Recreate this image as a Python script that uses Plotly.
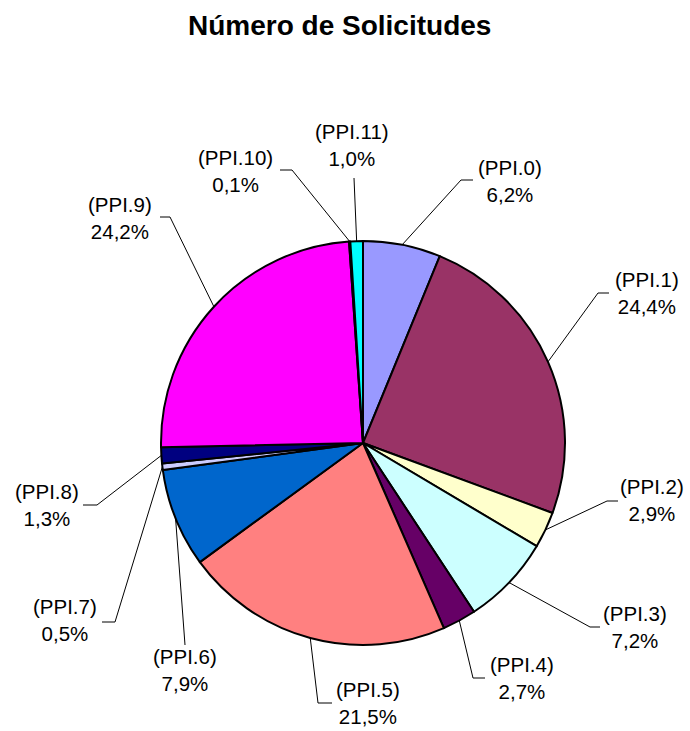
import numpy as np
import plotly.graph_objects as go

# data
labels = ["PPI.0", "PPI.1", "PPI.2", "PPI.3", "PPI.4", "PPI.5",
          "PPI.6", "PPI.7", "PPI.8", "PPI.9", "PPI.10", "PPI.11"]
shares = [6.2, 24.4, 2.9, 7.2, 2.7, 21.5, 7.9, 0.5, 1.3, 24.2, 0.1, 1.0]
colors = ["#9999FF", "#993366", "#FFFFCC", "#CCFFFF", "#660066", "#FF8080",
          "#0066CC", "#CCCCFF", "#000080", "#FF00FF", "#FFFF00", "#00FFFF"]

W, H = 690, 731
cx, cy, R = 363, 443, 202

# label layout (pixels): text centre, elbow, end of leader
label_text = [(510, 181), (647, 293), (652, 500), (635, 627), (522, 678), (368, 703),
              (185, 670), (65, 620), (47, 505), (120, 218), (235, 171), (352, 145)]
label_elbow = [(461, 180), (598, 293), (607, 501), (590, 627), (473, 678), (318, 703),
               (185, 645), (115, 622), (97, 505), (170, 217), (292, 170), (354, 178)]
label_end = [(473, 180), (609, 293), (618, 501), (600, 627), (485, 678), (332, 703),
             (185, 645), (102, 622), (83, 505), (160, 217), (280, 170), (354, 178)]


def px(x, y):
    return x / W, 1 - y / H


fig = go.Figure()
fig.add_trace(go.Pie(
    labels=labels, values=shares, sort=False, direction="clockwise", rotation=0,
    marker=dict(colors=colors, line=dict(color="black", width=2)),
    textinfo="none", hoverinfo="label+percent", showlegend=False,
    domain=dict(x=[px(cx - R, 0)[0], px(cx + R, 0)[0]],
                y=[px(0, cy + R)[1], px(0, cy - R)[1]]),
))

total = sum(shares)
cum = np.cumsum([0] + shares)
for i, lab in enumerate(labels):
    mid = (cum[i] + shares[i] / 2) / total * 2 * np.pi
    sx, sy = cx + R * np.sin(mid), cy - R * np.cos(mid)
    x0, y0 = px(sx, sy)
    x1, y1 = px(*label_elbow[i])
    x2, y2 = px(*label_end[i])
    fig.add_shape(type="path", xref="paper", yref="paper",
                  path=f"M {x0} {y0} L {x1} {y1} L {x2} {y2}",
                  line=dict(color="black", width=1))
    lx, ly = px(*label_text[i])
    pct = f"{shares[i]:.1f}%".replace(".", ",")
    fig.add_annotation(x=lx, y=ly, xref="paper", yref="paper", showarrow=False,
                       text=f"({lab})<br>{pct}", xanchor="center", yanchor="middle",
                       font=dict(family="Liberation Sans, Arial", size=20.5, color="black"))

tx, ty = px(339, 26)
fig.add_annotation(x=tx, y=ty, xref="paper", yref="paper", showarrow=False,
                   text="<b>Número de Solicitudes</b>", xanchor="center", yanchor="middle",
                   font=dict(family="Liberation Sans, Arial", size=28, color="black"))

fig.update_layout(width=W, height=H, margin=dict(l=0, r=0, t=0, b=0),
                  paper_bgcolor="white", plot_bgcolor="white")

# drop the default body margin so the figure fills the window
fig.write_html("out.html", config={"displayModeBar": False},
               post_script="document.body.style.margin='0';document.body.style.overflow='hidden';")
